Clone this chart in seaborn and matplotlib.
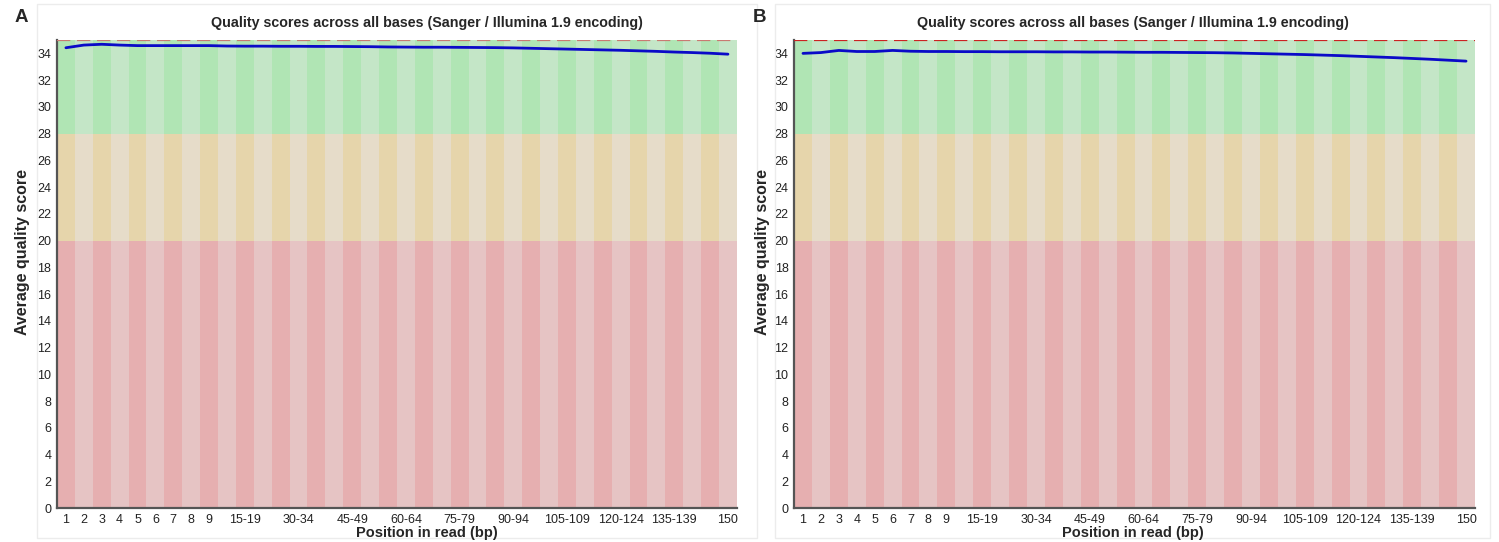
import numpy as np
import pandas as pd
import matplotlib
matplotlib.use('Agg')
import matplotlib.pyplot as plt
from matplotlib.patches import Rectangle
import seaborn as sns

sns.set_style('white')
plt.rcParams['font.family'] = ['Liberation Sans', 'DejaVu Sans']

# position bins (FastQC style grouping)
bins = [str(i) for i in range(1, 10)] + [f'{s}-{s + 4}' for s in range(10, 150, 5)] + ['150']
shown = ['1', '2', '3', '4', '5', '6', '7', '8', '9', '15-19', '30-34', '45-49', '60-64',
         '75-79', '90-94', '105-109', '120-124', '135-139', '150']

# mean quality per bin
mean_a = [34.42, 34.62, 34.68, 34.62, 34.58, 34.58, 34.58, 34.58, 34.58, 34.55,
          34.54, 34.54, 34.53, 34.53, 34.52, 34.52, 34.51, 34.50, 34.48, 34.47,
          34.46, 34.46, 34.45, 34.44, 34.43, 34.41, 34.38, 34.35, 34.32, 34.29,
          34.26, 34.23, 34.19, 34.15, 34.10, 34.06, 34.01, 33.94]
mean_b = [34.00, 34.06, 34.22, 34.14, 34.14, 34.22, 34.16, 34.14, 34.14, 34.13,
          34.13, 34.12, 34.12, 34.12, 34.11, 34.11, 34.10, 34.10, 34.09, 34.08,
          34.08, 34.07, 34.06, 34.05, 34.03, 34.00, 33.97, 33.94, 33.91, 33.87,
          33.83, 33.78, 33.73, 33.68, 33.62, 33.56, 33.49, 33.42]

zones = [(0, 20, '#e6afb0', '#e6c4c4'),
         (20, 28, '#e6d5ab', '#e6dcc9'),
         (28, 35, '#b0e5b4', '#c4e6c7')]

panels = [('A', mean_a, [0.038, 0.0627, 0.4536, 0.8635], 427, '#c97a72'),
          ('B', mean_b, [0.5297, 0.0627, 0.4543, 0.8635], 1133, '#cc2222')]

W, H = 1499, 542
fig = plt.figure(figsize=(W / 100, H / 100), dpi=100)

# faint panel frames
for x0, x1 in [(37, 757), (775, 1490)]:
    fig.add_artist(Rectangle((x0 / W, 4 / H), (x1 - x0) / W, (H - 8) / H, transform=fig.transFigure,
                             fill=False, edgecolor='#ececec', linewidth=1))

for letter, vals, rect, cx, dash_col in panels:
    ax = fig.add_axes(rect)
    idx = np.arange(len(bins))
    for lo, hi, dark, light in zones:
        cols = [dark if i % 2 == 0 else light for i in idx]
        ax.bar(idx, hi - lo, bottom=lo, width=1.0, color=cols, linewidth=0, zorder=0)

    df = pd.DataFrame({'pos': idx, 'quality': vals})
    sns.lineplot(data=df, x='pos', y='quality', ax=ax, color='#0a0ac8', linewidth=2, zorder=3)
    ax.axhline(35, color=dash_col, linestyle=(0, (6, 3)), linewidth=1.6, zorder=4)

    ax.set_xlim(-0.5, len(bins) - 0.5)
    ax.set_ylim(0, 35)
    ax.set_yticks(range(0, 35, 2))
    ax.set_xticks([bins.index(b) for b in shown])
    ax.set_xticklabels(shown)
    ax.tick_params(axis='both', length=0, labelsize=9, colors='#222222', pad=4)
    ax.set_xlabel('')
    ax.set_ylabel('')
    for s in ['top', 'right']:
        ax.spines[s].set_visible(False)
    for s in ['left', 'bottom']:
        ax.spines[s].set_color('#555555')
        ax.spines[s].set_linewidth(1.6)

    fig.text(cx / W, 1 - 23 / H, 'Quality scores across all bases (Sanger / Illumina 1.9 encoding)',
             ha='center', va='center', fontsize=10.3, fontweight='bold')
    fig.text(cx / W, 1 - 533 / H, 'Position in read (bp)', ha='center', va='center',
             fontsize=10.5, fontweight='bold')
    ylab_x = 23 if letter == 'A' else 762
    fig.text(ylab_x / W, 1 - 252 / H, 'Average quality score', ha='center', va='center',
             rotation=90, fontsize=11.5, fontweight='bold')
    let_x = 21 if letter == 'A' else 759
    fig.text(let_x / W, 1 - 18 / H, letter, ha='center', va='center', fontsize=13.5, fontweight='bold')

fig.savefig('out.png', dpi=100)
